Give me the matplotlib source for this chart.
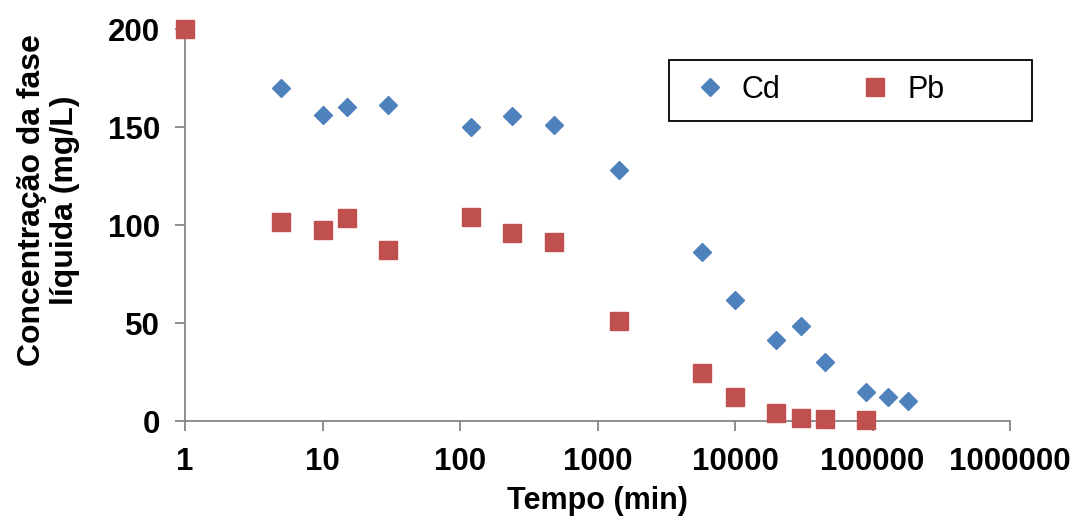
import matplotlib.pyplot as plt
from matplotlib.patches import Rectangle

plt.rcParams['font.family'] = ['Liberation Sans', 'DejaVu Sans']

# tempo (min) e concentração (mg/L)
tempo_cd = [5, 10, 15, 30, 120, 240, 480, 1440, 5760, 10000, 20000, 30000, 45000, 90000, 130000, 180000]
conc_cd = [170, 156, 160, 161.5, 150, 155.5, 151, 128, 86, 62, 41.5, 48.5, 30, 15, 12, 10]

tempo_pb = [1, 5, 10, 15, 30, 120, 240, 480, 1440, 5760, 10000, 20000, 30000, 45000, 90000]
conc_pb = [200, 101.5, 97.5, 103.5, 87.5, 104, 96, 91.5, 51, 24.5, 12, 4, 1.5, 1, 0.5]

W, H = 1077, 519
fig = plt.figure(figsize=(W / 100, H / 100), dpi=100)
ax = fig.add_axes([0.1718, 0.1888, 0.766, 0.7552])

ax.plot(tempo_cd, conc_cd, linestyle='none', marker='D', markersize=9.6,
        color='#4F81BD', label='Cd', clip_on=False, zorder=3)
ax.plot(tempo_pb, conc_pb, linestyle='none', marker='s', markersize=13.5,
        color='#C0504D', label='Pb', clip_on=False, zorder=3)

ax.set_xscale('log')
ax.set_xlim(1, 1e6)
ax.set_ylim(0, 200)
ax.set_xticks([1, 10, 100, 1000, 10000, 100000, 1000000])
ax.set_xticklabels(['1', '10', '100', '1000', '10000', '100000', '1000000'])
ax.minorticks_off()
ax.set_yticks([0, 50, 100, 150, 200])

for s in ['top', 'right']:
    ax.spines[s].set_visible(False)
for s in ['left', 'bottom']:
    ax.spines[s].set_color('#868686')
    ax.spines[s].set_linewidth(1.3)
ax.tick_params(axis='both', direction='out', length=7, width=1.3, color='#868686',
               labelsize=22.5)
ax.tick_params(axis='x', pad=12)
ax.tick_params(axis='y', pad=11)
for lab in ax.get_xticklabels() + ax.get_yticklabels():
    lab.set_fontweight('bold')

ax.set_xlabel('Tempo (min)', fontsize=22, fontweight='bold', labelpad=6)
ax.set_ylabel('Concentração da fase\nlíquida (mg/L)', fontsize=23, fontweight='bold',
              linespacing=1.15)
ax.yaxis.set_label_coords(-0.127, 0.564)

# legenda sem moldura + moldura desenhada à parte (estilo Excel)
leg = fig.legend(loc='center left', bbox_to_anchor=(676 / W, 1 - 90 / H), ncol=2,
                 fontsize=22, frameon=False, handletextpad=0.45, columnspacing=2.5,
                 borderpad=0, handlelength=1.2, numpoints=1)
fig.patches.append(Rectangle((669 / W, 1 - 121 / H), (1032 - 669) / W, 61 / H,
                             transform=fig.transFigure, fill=False,
                             edgecolor='black', linewidth=1.3))

fig.savefig('out.png', dpi=100)
